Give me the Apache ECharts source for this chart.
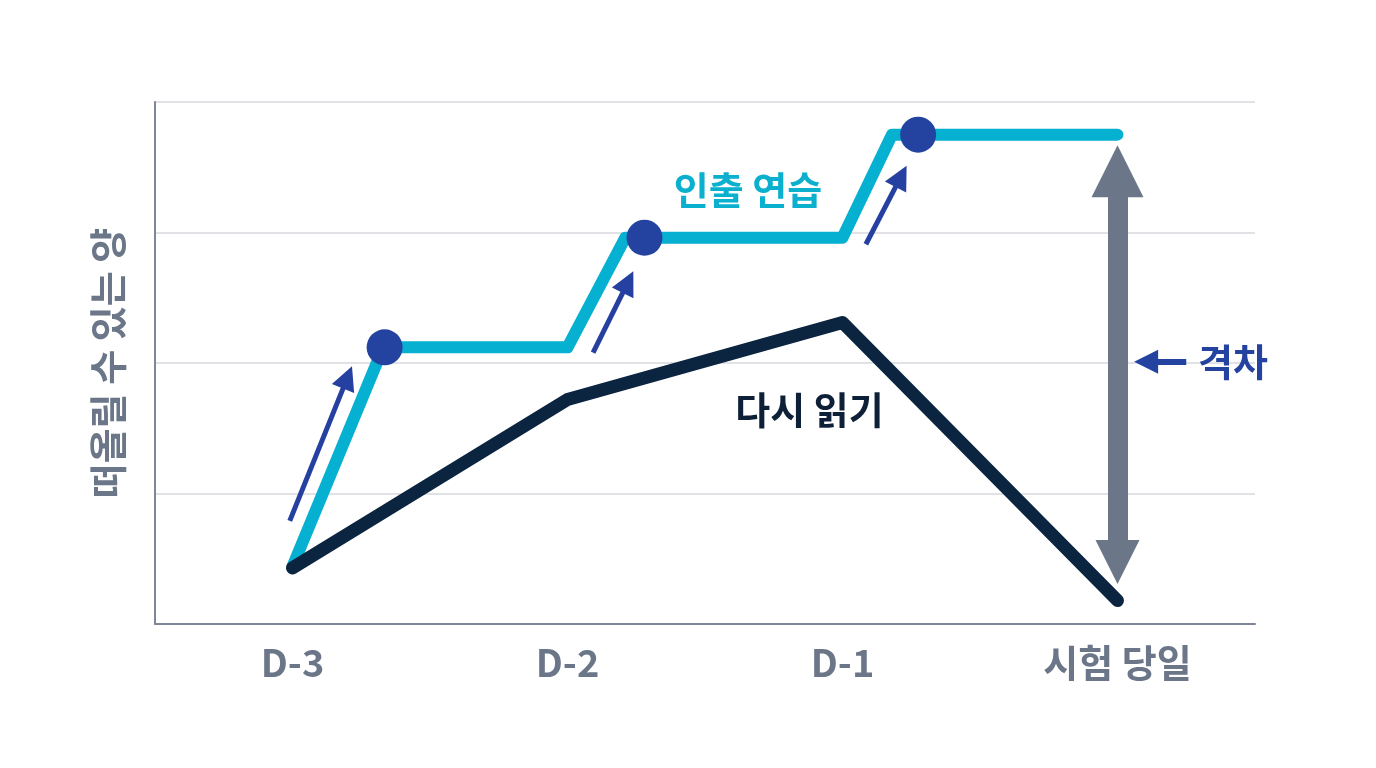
<!DOCTYPE html>
<html>
<head>
<meta charset="utf-8">
<script src="https://cdn.jsdelivr.net/npm/echarts@6/dist/echarts.min.js"></script>
<style>
  html, body { margin: 0; background: #fff; }
  #chart { width: 1376px; height: 768px; }
</style>
</head>
<body>
<div id="chart"></div>
<script>
// 카테고리 / 데이터
const days = ['D-3', 'D-2', 'D-1', '시험 당일'];
const retrievalPath = [[0, 0.44], [0.33, 2.12], [1, 2.12], [1.21, 2.96], [2, 2.96], [2.18, 3.75], [3, 3.75]];
const retrievalDots = [[0.335, 2.12], [1.28, 2.96], [2.275, 3.75]];
const rereadPath = [[0, 0.43], [1, 1.72], [2, 2.31], [3, 0.18]];
const boostArrows = [
  [[-0.01, 0.79], [0.2, 1.89]],
  [[1.093, 2.08], [1.22, 2.62]],
  [[2.085, 2.91], [2.213, 3.43]],
];
const gapArrow = [[3, 3.47], [3, 0.475]];
const gapPointer = [[3.25, 2.01], [3.104, 2.01]];
const notes = [
  { name: '인출 연습', value: [1.656, 3.33], color: '#0bb0cf' },
  { name: '다시 읽기', value: [1.88, 1.64], color: '#0d2038' },
  { name: '격차', value: [3.42, 2.01], color: '#2443a0' },
];

const FONT = '"Noto Sans CJK KR", "Noto Sans", sans-serif';
const GRAY = '#6b7788';

const chart = echarts.init(document.getElementById('chart'));
chart.setOption({
  animation: false,
  grid: { left: 155, right: 121, top: 102, bottom: 144 },
  xAxis: [
    {
      type: 'category',
      data: days,
      boundaryGap: true,
      axisLine: { lineStyle: { color: '#7d8796', width: 2 } },
      axisTick: { show: false },
      axisLabel: { color: GRAY, fontSize: 38, fontWeight: 'bold', fontFamily: FONT, margin: 20 },
    },
    { type: 'value', min: -0.5, max: 3.5, show: false },
  ],
  yAxis: {
    type: 'value',
    min: 0,
    max: 4,
    interval: 1,
    name: '떠올릴 수 있는 양',
    nameLocation: 'middle',
    nameGap: 28,
    nameTextStyle: { color: GRAY, fontSize: 38, fontWeight: 'bold', fontFamily: FONT },
    axisLine: { show: true, onZero: false, lineStyle: { color: '#7d8796', width: 2 } },
    axisTick: { show: false },
    axisLabel: { show: false },
    splitLine: { lineStyle: { color: '#d6d9de', width: 1.5 } },
  },
  series: [
    {
      type: 'line',
      xAxisIndex: 1,
      data: retrievalPath,
      symbol: 'none',
      lineStyle: { color: '#06b0d0', width: 12, cap: 'round', join: 'round' },
      z: 3,
    },
    {
      type: 'line',
      xAxisIndex: 1,
      data: rereadPath,
      symbol: 'none',
      lineStyle: { color: '#0b2440', width: 13, cap: 'round', join: 'round' },
      z: 4,
    },
    {
      type: 'scatter',
      xAxisIndex: 1,
      data: retrievalDots,
      symbolSize: 36,
      itemStyle: { color: '#2443a0', opacity: 1 },
      z: 5,
    },
    {
      type: 'lines',
      coordinateSystem: 'cartesian2d',
      xAxisIndex: 1,
      data: boostArrows.map(c => ({ coords: c })),
      symbol: ['none', 'triangle'],
      symbolSize: [20, 24],
      lineStyle: { color: '#2540a0', width: 5, opacity: 1 },
      z: 5,
    },
    {
      type: 'lines',
      coordinateSystem: 'cartesian2d',
      xAxisIndex: 1,
      data: [{ coords: gapArrow }],
      symbol: ['triangle', 'triangle'],
      symbolSize: [52, 44],
      lineStyle: { color: GRAY, width: 20, opacity: 1 },
      z: 5,
    },
    {
      type: 'lines',
      coordinateSystem: 'cartesian2d',
      xAxisIndex: 1,
      data: [{ coords: gapPointer }],
      symbol: ['none', 'triangle'],
      symbolSize: [24, 24],
      lineStyle: { color: '#2443a0', width: 6, opacity: 1 },
      z: 5,
    },
    {
      type: 'scatter',
      xAxisIndex: 1,
      data: notes.map(n => ({
        name: n.name,
        value: n.value,
        label: { color: n.color },
      })),
      symbolSize: 0,
      itemStyle: { opacity: 1 },
      label: {
        show: true,
        position: 'inside',
        formatter: '{b}',
        fontSize: 38,
        fontWeight: 'bold',
        fontFamily: FONT,
      },
      z: 6,
    },
  ],
});
</script>
</body>
</html>
